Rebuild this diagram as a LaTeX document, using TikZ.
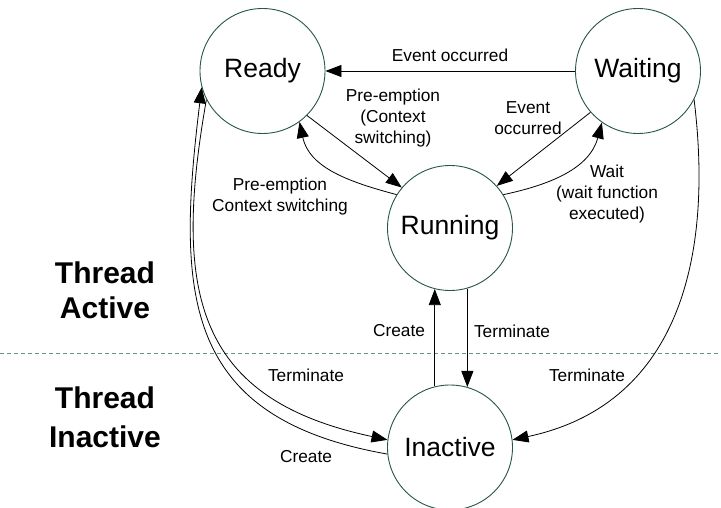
\documentclass[tikz,border=0pt]{standalone}
\usepackage{fontspec}
\setmainfont{Liberation Sans}
\usetikzlibrary{arrows.meta}
\definecolor{circ}{RGB}{40,88,68}
\definecolor{dashc}{RGB}{110,145,128}
\begin{document}
\begin{tikzpicture}[x=1pt,y=-1pt,
  state/.style={circle,draw=circ,line width=0.9pt,minimum size=125pt,inner sep=0pt,font=\fontsize{26.5}{30}\selectfont},
  lbl/.style={font=\fontsize{17.3}{21}\selectfont,align=center,inner sep=0pt},
  side/.style={font=\bfseries\fontsize{30}{35}\selectfont,align=center,inner sep=0pt},
  conn/.style={line width=0.8pt,-{Triangle[length=16pt,width=12pt]}},
  sep/.style={draw=dashc,line width=0.9pt,dash pattern=on 4pt off 3pt}]
\path[use as bounding box] (0,0) rectangle (721,508);
\fill[white] (0,0) rectangle (721,508);
% separator
\coordinate (dl) at (0,353);
\coordinate (dr) at (721,353);
\draw[sep] (dl) -- (dr);
% states
\node[state] (ready) at (262.5,71) {Ready};
\node[state] (waiting) at (638,71) {Waiting};
\node[state] (running) at (450,228) {Running};
\node[state] (inactive) at (450,447.5) {Inactive};
% side titles
\node[side] (tact) at (105,290) {Thread\\Active};
\node[side,font=\bfseries\fontsize{30}{39}\selectfont] (tinact) at (105,417) {Thread\\Inactive};
% connectors
\draw[conn] (waiting.west) -- (ready.east);
\draw[conn] (ready.-45) -- (running.140);
\draw[conn] (running.148) to[out=165,in=-78] (ready.-54);
\draw[conn] (waiting.221) -- (running.42);
\draw[conn] (running.32) to[out=12,in=-105] (waiting.-125);
\draw[conn] (running.-74) -- (inactive.74);
\draw[conn] (inactive.104) -- (running.-104);
\draw[conn] (waiting.-27) to[out=-83,in=12,looseness=1.1] (inactive.7);
\draw[conn] (ready.207) to[out=-100,in=168,looseness=1.3] (inactive.173);
\draw[conn] (inactive.186) to[out=170,in=-97,looseness=1.3] (ready.195);
% labels
\node[lbl] (l1) at (450,55) {Event occurred};
\node[lbl] (l2) at (393,118) {Pre-emption\\(Context\\switching)};
\node[lbl] (l3) at (280,197) {Pre-emption\\Context switching};
\node[lbl] (l4) at (528,118) {Event\\occurred};
\node[lbl] (l5) at (607,194) {Wait\\(wait function\\executed)};
\node[lbl] (l6) at (399,331) {Create};
\node[lbl] (l7) at (512,331) {Terminate};
\node[lbl] (l8) at (306,375) {Terminate};
\node[lbl] (l9) at (306,457) {Create};
\node[lbl] (l10) at (587,375) {Terminate};
\end{tikzpicture}
\end{document}
